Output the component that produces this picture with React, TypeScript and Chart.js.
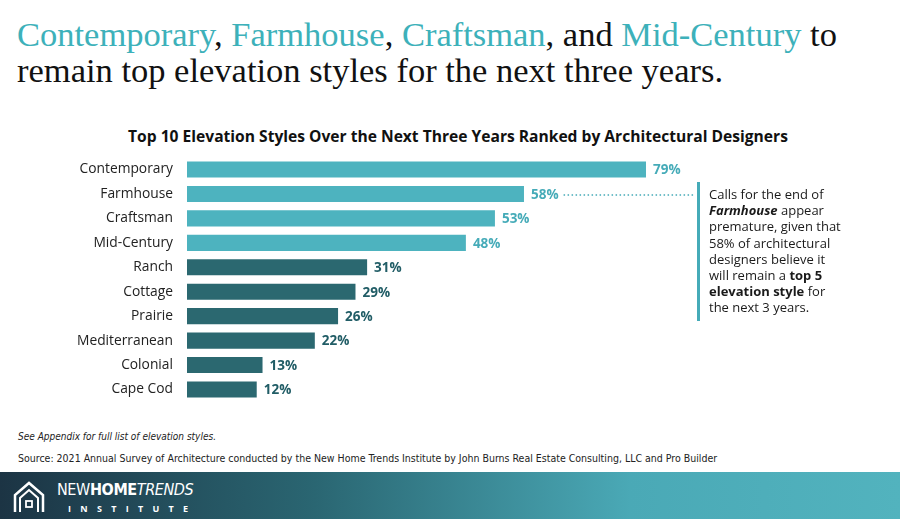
import React, { useEffect, useRef } from "react";
import { Chart, registerables } from "chart.js";

Chart.register(...registerables);

const categories = ["Contemporary", "Farmhouse", "Craftsman", "Mid-Century", "Ranch", "Cottage", "Prairie", "Mediterranean", "Colonial", "Cape Cod"];
const values = [79, 58, 53, 48, 31, 29, 26, 22, 13, 12];
const highlighted = [true, true, true, true, false, false, false, false, false, false];

const LIGHT = "#4db3bf";
const DARK = "#2b6870";
const LIGHT_TXT = "#45abb8";
const DARK_TXT = "#215d66";
const SANS = "'Open Sans', 'Noto Sans', sans-serif";

export default function App() {
  const ref = useRef<HTMLCanvasElement>(null);
  useEffect(() => {
    const labelPlugin = {
      id: "labels",
      afterDatasetsDraw(chart: any) {
        const ctx = chart.ctx;
        const meta = chart.getDatasetMeta(0);
        ctx.save();
        ctx.font = `bold 13.5px ${SANS}`;
        ctx.textBaseline = "middle";
        ctx.textAlign = "left";
        meta.data.forEach((bar: any, i: number) => {
          ctx.fillStyle = highlighted[i] ? LIGHT_TXT : DARK_TXT;
          const txt = values[i] + "%";
          ctx.fillText(txt, bar.x + 7, bar.y + 1);
          if (i === 1) {
            const w = ctx.measureText(txt).width;
            ctx.strokeStyle = LIGHT_TXT;
            ctx.lineWidth = 1.6;
            ctx.setLineDash([1.5, 2.5]);
            ctx.beginPath();
            ctx.moveTo(bar.x + 7 + w + 5, bar.y + 1);
            ctx.lineTo(694, bar.y + 1);
            ctx.stroke();
            ctx.setLineDash([]);
          }
        });
        ctx.restore();
      },
    };
    const chart = new Chart(ref.current!, {
      type: "bar",
      data: {
        labels: categories,
        datasets: [
          {
            data: values,
            backgroundColor: highlighted.map((h) => (h ? LIGHT : DARK)),
            barPercentage: 0.66,
            categoryPercentage: 1,
          },
        ],
      },
      options: {
        indexAxis: "y",
        animation: false,
        responsive: false,
        maintainAspectRatio: false,
        layout: { padding: { left: 0, right: 132, top: 10, bottom: 8 } },
        plugins: { legend: { display: false }, tooltip: { enabled: false } },
        scales: {
          x: { display: false, min: 0, max: 100 },
          y: {
            afterFit(scale: any) {
              scale.width = 187;
            },
            grid: { display: false, drawTicks: false },
            border: { display: false },
            ticks: { padding: 14, color: "#222", font: { family: SANS, size: 13.8 } },
          },
        },
      },
      plugins: [labelPlugin],
    });
    return () => chart.destroy();
  }, []);

  const teal = "#3db1ba";
  const NARROW = "'Liberation Sans Narrow', 'DejaVu Sans Condensed', sans-serif";
  return (
    <div style={{ position: "fixed", left: 0, top: 0, width: 900, height: 519, background: "#fff", overflow: "hidden" }}>
      <div
        style={{
          position: "absolute",
          left: 17,
          top: 16,
          fontFamily: "'Liberation Serif', 'DejaVu Serif', serif",
          fontSize: 34.5,
          lineHeight: "36px",
          color: "#111",
          whiteSpace: "nowrap",
        }}
      >
        <span style={{ color: teal }}>Contemporary</span>, <span style={{ color: teal }}>Farmhouse</span>,{" "}
        <span style={{ color: teal }}>Craftsman</span>, and <span style={{ color: teal }}>Mid-Century</span> to
        <br />
        remain top elevation styles for the next three years.
      </div>
      <div
        style={{
          position: "absolute",
          left: 0,
          width: 916,
          top: 125,
          textAlign: "center",
          fontFamily: SANS,
          fontWeight: 700,
          fontSize: 15.6,
          color: "#111",
        }}
      >
        Top 10 Elevation Styles Over the Next Three Years Ranked by Architectural Designers
      </div>
      <canvas ref={ref} width={900} height={289} style={{ position: "absolute", left: 0, top: 135, width: 900, height: 289 }} />
      <div style={{ position: "absolute", left: 697, top: 182, width: 3, height: 139, background: LIGHT_TXT }} />
      <div
        style={{
          position: "absolute",
          left: 709,
          top: 186,
          width: 150,
          fontFamily: SANS,
          fontSize: 13,
          lineHeight: "16.2px",
          color: "#1a1a1a",
        }}
      >
        Calls for the end of
        <br />
        <b>
          <i>Farmhouse</i>
        </b>{" "}
        appear
        <br />
        premature, given that
        <br />
        58% of architectural
        <br />
        designers believe it
        <br />
        will remain a <b>top 5</b>
        <br />
        <b>elevation style</b> for
        <br />
        the next 3 years.
      </div>
      <div
        style={{
          position: "absolute",
          left: 18,
          top: 431,
          fontFamily: NARROW,
          fontStyle: "italic",
          fontSize: 10,
          color: "#222",
        }}
      >
        See Appendix for full list of elevation styles.
      </div>
      <div
        style={{
          position: "absolute",
          left: 18,
          top: 452,
          fontFamily: NARROW,
          fontSize: 10.5,
          color: "#222",
          whiteSpace: "nowrap",
        }}
      >
        Source: 2021 Annual Survey of Architecture conducted by the New Home Trends Institute by John Burns Real Estate Consulting, LLC and Pro Builder
      </div>
      <div
        style={{
          position: "absolute",
          left: 0,
          top: 472,
          width: 900,
          height: 47,
          background: "linear-gradient(90deg, #1c3444 0%, #2a6672 35%, #4aa9b6 70%, #52b3be 100%)",
        }}
      >
        <svg width="34" height="34" viewBox="0 0 34 34" style={{ position: "absolute", left: 12, top: 8 }}>
          <path d="M3 32 V15 L17 3 L31 15 V32" fill="none" stroke="#fff" strokeWidth="2.5" />
          <path d="M8 32 V18 L17 10 L26 18 V32" fill="none" stroke="#fff" strokeWidth="2" />
          <rect x="14" y="21" width="6" height="6" fill="none" stroke="#fff" strokeWidth="1.8" />
        </svg>
        <div
          style={{
            position: "absolute",
            left: 57,
            top: 8,
            color: "#fff",
            fontFamily: NARROW,
            fontSize: 16,
            letterSpacing: -0.4,
            whiteSpace: "nowrap",
          }}
        >
          <span style={{ fontWeight: 300 }}>NEW</span>
          <span style={{ fontWeight: 700 }}>HOME</span>
          <span style={{ fontStyle: "italic" }}>TRENDS</span>
        </div>
        <div
          style={{
            position: "absolute",
            left: 68,
            top: 30,
            color: "#fff",
            fontFamily: SANS,
            fontSize: 9,
            fontWeight: 700,
            letterSpacing: 9.3,
            whiteSpace: "nowrap",
          }}
        >
          INSTITUTE
        </div>
      </div>
    </div>
  );
}
